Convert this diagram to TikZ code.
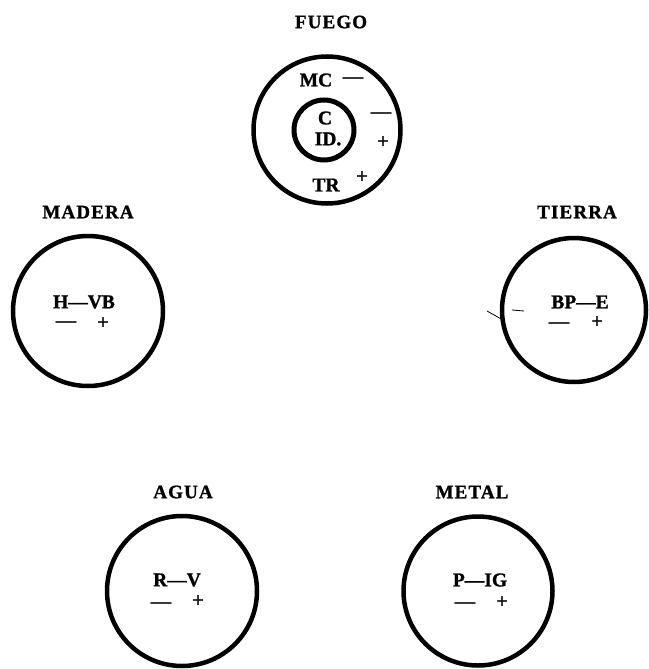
\documentclass[tikz,border=0pt]{standalone}
\usepackage{fontspec}
\setmainfont{Liberation Serif}[BoldFeatures={FakeBold=1.2}]
\newfontfamily\spacedfont{Liberation Serif}[LetterSpace=6,BoldFeatures={FakeBold=1.2}]
\begin{document}
\begin{tikzpicture}[x=1pt,y=-1pt,
  ring/.style={draw, circle, line width=4.5pt, inner sep=0pt},
  title/.style={font=\spacedfont\fontsize{19}{19}\selectfont\bfseries, inner sep=0pt},
  txt/.style={font=\fontsize{19.5}{19.5}\selectfont\bfseries, inner sep=0pt},
  sgn/.style={font=\fontsize{20}{20}\selectfont\bfseries, inner sep=0pt},
  stray/.style={line width=0.8pt}]
\useasboundingbox (0,0) rectangle (648,669);
% FUEGO
\node[title] (tf) at (331,22) {FUEGO};
\node[ring, minimum size=147pt] (fuego) at (327,130) {};
\node[ring, minimum size=60pt, line width=5pt] (core) at (324,130) {};
\node[txt] (mc) at (316,80) {MC};
\node[sgn] (mcm) at (353,80) {—};
\node[txt] (c) at (325,118) {C};
\node[txt] (id) at (328,139) {ID.};
\node[sgn] (fm) at (381,115) {—};
\node[sgn] (fp) at (383,142) {+};
\node[txt] (tr) at (326,185) {TR};
\node[sgn] (trp) at (362,177) {+};
% MADERA
\node[title] (tm) at (88,212) {MADERA};
\node[ring, minimum size=150pt] (madera) at (88,311) {};
\node[txt] (hvb) at (84,302) {H—VB};
\node[sgn] (mm) at (66,324) {—};
\node[sgn] (mp) at (103,323) {+};
% TIERRA
\node[title] (tt) at (577,212) {TIERRA};
\node[ring, minimum size=144pt] (tierra) at (574,310) {};
\node[txt] (bpe) at (580,302) {BP—E};
\node[sgn] (tm2) at (559,325) {—};
\node[sgn] (tp) at (597,322) {+};
\coordinate (s1) at (487,311);
\coordinate (s2) at (503,320);
\draw[stray] (s1) -- (s2);
\coordinate (s3) at (512,310);
\coordinate (s4) at (524,311);
\draw[stray] (s3) -- (s4);
% AGUA
\node[title] (ta) at (183,492) {AGUA};
\node[ring, minimum size=150pt] (agua) at (182,591) {};
\node[txt] (rv) at (177,580) {R—V};
\node[sgn] (am) at (161,605) {—};
\node[sgn] (ap) at (198,601) {+};
% METAL
\node[title] (tme) at (472,492) {METAL};
\node[ring, minimum size=149pt] (metal) at (478,591) {};
\node[txt] (pig) at (480,580) {P—IG};
\node[sgn] (mem) at (465,605) {—};
\node[sgn] (mep) at (502,602) {+};
\end{tikzpicture}
\end{document}
